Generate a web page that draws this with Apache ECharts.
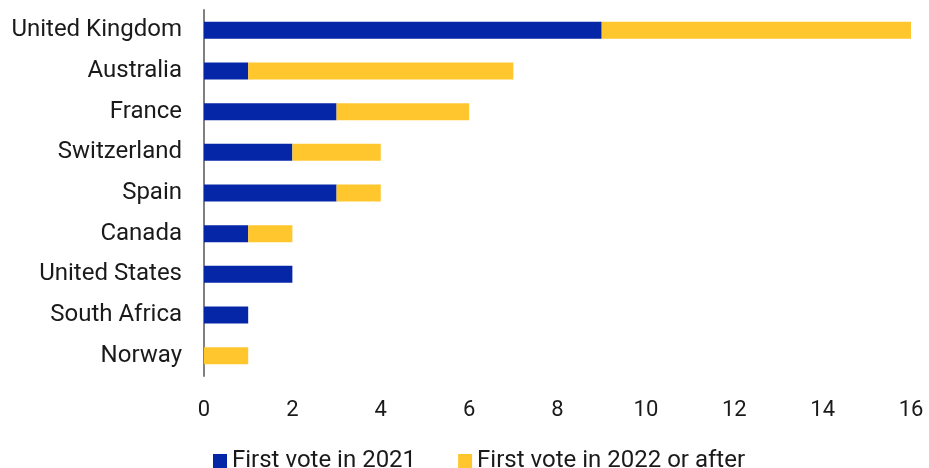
<!DOCTYPE html>
<html lang="en">
<head>
  <meta charset="UTF-8">
  <title>First votes by country</title>
  <script src="https://cdn.jsdelivr.net/npm/echarts@6/dist/echarts.min.js"></script>
  <style type="text/css">
    html, body { margin: 0; padding: 0; background: #fff; }
    #main { width: 929px; height: 468px; }
  </style>
</head>
<body>
  <div id="main"></div>

  <script type="text/javascript">
    // data, top row first
    var countries = ['United Kingdom', 'Australia', 'France', 'Switzerland', 'Spain',
                     'Canada', 'United States', 'South Africa', 'Norway'];
    var first2021 = [9, 1, 3, 2, 3, 1, 2, 1, 0];
    var first2022 = [7, 6, 3, 2, 1, 1, 0, 0, 1];
    var seriesNames = ['First vote in 2021', 'First vote in 2022 or after'];

    var myChart = echarts.init(document.getElementById('main'));
    var font = 'Roboto';

    // category axis goes bottom-up, so reverse it
    var option = {
      animation: false,
      textStyle: { fontFamily: font },
      grid: { left: 204, right: 18, top: 10, bottom: 92, containLabel: false },
      legend: {
        top: 449,
        left: 213,
        icon: 'rect',
        itemWidth: 14,
        itemHeight: 14,
        itemGap: 42,
        padding: 0,
        textStyle: { fontFamily: font, fontSize: 24, color: '#1a1a1a' },
        data: seriesNames
      },
      xAxis: {
        type: 'value',
        min: 0,
        max: 16,
        interval: 2,
        axisLine: { show: false },
        axisTick: { show: false },
        splitLine: { show: false },
        axisLabel: { fontFamily: font, fontSize: 22, color: '#1a1a1a', margin: 23 }
      },
      yAxis: {
        type: 'category',
        inverse: true,
        data: countries,
        axisLine: { show: true, lineStyle: { color: '#808080', width: 2 } },
        axisTick: { show: false },
        axisLabel: { fontFamily: font, fontSize: 24, color: '#1a1a1a', margin: 22, padding: [4, 0, 0, 0] }
      },
      series: [{
        name: seriesNames[0],
        type: 'bar',
        stack: 'votes',
        barWidth: 17,
        itemStyle: { color: '#0626A8' },
        data: first2021
      }, {
        name: seriesNames[1],
        type: 'bar',
        stack: 'votes',
        barWidth: 17,
        itemStyle: { color: '#FFC62E' },
        data: first2022
      }]
    };

    myChart.setOption(option);
  </script>
</body>
</html>
